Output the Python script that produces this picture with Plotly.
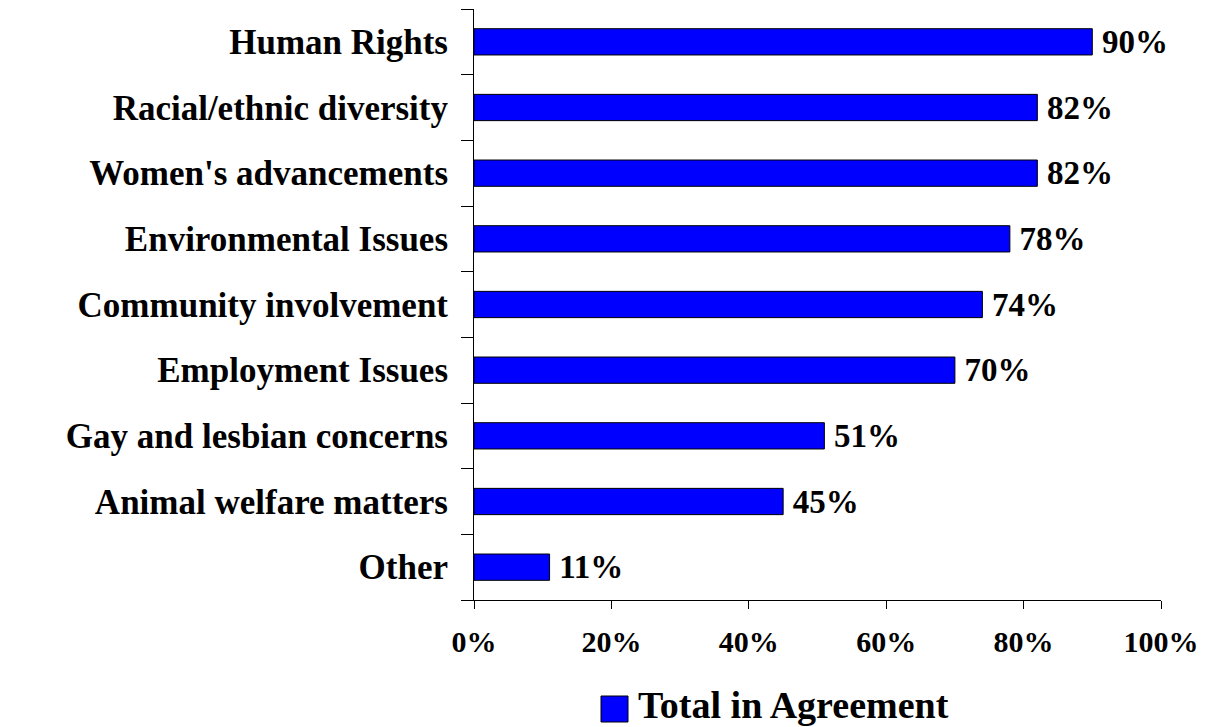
import plotly.graph_objects as go

categories = ["Human Rights", "Racial/ethnic diversity", "Women's advancements",
              "Environmental Issues", "Community involvement", "Employment Issues",
              "Gay and lesbian concerns", "Animal welfare matters", "Other"]
values = [90, 82, 82, 78, 74, 70, 51, 45, 11]
series_name = "Total in Agreement"
x_ticks = [0, 20, 40, 60, 80, 100]
x_tick_labels = ["0%", "20%", "40%", "60%", "80%", "100%"]

FONT = "Liberation Serif"
W, H = 1205, 727
L, R, T, B = 474, 44, 9, 127

fig = go.Figure()
fig.add_trace(go.Bar(
    y=categories, x=values, orientation="h", name=series_name,
    marker=dict(color="#0000FF", line=dict(color="black", width=1)),
    text=[f"\u2009<b>{v}%</b>" for v in values], textposition="outside",
    textfont=dict(family=FONT, size=33, color="black"),
    constraintext="none", cliponaxis=False, showlegend=False,
))

fig.update_layout(
    width=W, height=H, margin=dict(l=L, r=R, t=T, b=B, autoexpand=False),
    paper_bgcolor="white", plot_bgcolor="white", bargap=0.6,
    font=dict(family=FONT, color="black"),
)
fig.update_xaxes(
    range=[0, 100], tickvals=x_ticks, ticktext=[f"<b>{t}</b>" for t in x_tick_labels],
    showgrid=False, zeroline=False, showline=True, linecolor="black", linewidth=1,
    ticks="outside", ticklen=8, tickcolor="black", tickwidth=1,
    tickfont=dict(family=FONT, size=30, color="black"), ticklabelstandoff=7,
)
fig.update_yaxes(
    categoryorder="array", categoryarray=categories, autorange="reversed",
    tickvals=categories, ticktext=[f"<b>{c}</b>" for c in categories],
    showgrid=False, zeroline=False, showline=True, linecolor="black", linewidth=1,
    ticks="outside", ticklen=12, tickcolor="black", tickwidth=1, tickson="boundaries",
    tickfont=dict(family=FONT, size=35, color="black"), ticklabelstandoff=18,
)

PW, PH = W - L - R, H - T - B
# legend drawn as a swatch + label
fig.add_shape(type="rect", xref="paper", yref="paper",
              x0=(601 - L) / PW, x1=(628 - L) / PW,
              y0=-(722 - (H - B)) / PH, y1=-(696 - (H - B)) / PH,
              fillcolor="#0000FF", line=dict(color="black", width=1))
fig.add_annotation(xref="paper", yref="paper",
                   x=(636 - L) / PW, y=-(705 - (H - B)) / PH,
                   xanchor="left", yanchor="middle", showarrow=False,
                   text=f"<b>{series_name}</b>",
                   font=dict(family=FONT, size=38, color="black"))

fig.write_html("out.html", config={"displayModeBar": False},
               post_script="document.body.style.margin='0';")
